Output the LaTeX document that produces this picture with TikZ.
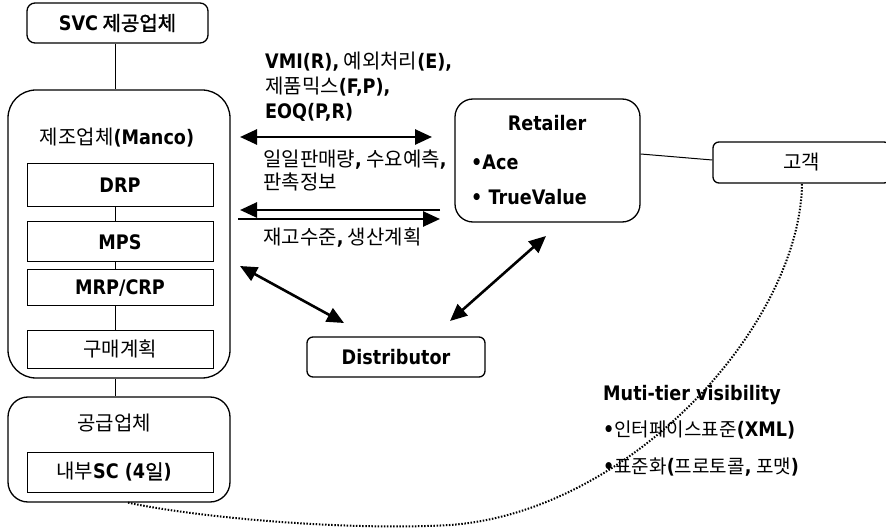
\documentclass[tikz,border=0pt]{standalone}
\usepackage{fontspec}
\setmainfont{Noto Sans CJK KR}
\newfontfamily\latfont[FakeStretch=0.88,Scale=1.0]{DejaVu Sans}
\newfontfamily\krbfont[FakeBold=1.5]{Noto Sans CJK KR}
\newcommand\B[1]{{\latfont\bfseries #1}}
\newcommand\KB[1]{{\krbfont #1}}
\newcommand\KS[1]{{\fontsize{19}{20}\selectfont #1}}
\newcommand\bul{{\latfont\bfseries •}}
\usetikzlibrary{arrows.meta}
\begin{document}
\begin{tikzpicture}[x=1pt,y=-1pt,
  every node/.style={font=\fontsize{20}{22}\selectfont, inner sep=0pt},
  rbox/.style={draw, line width=1.3pt, rounded corners=#1},
  rbox/.default=8pt,
  sbox/.style={draw, line width=1pt, minimum width=186pt},
  conn/.style={line width=1pt},
  tip/.tip={Triangle[length=17pt,width=15pt]},
  dbl/.style={line width=2.6pt, tip-tip},
  sgl/.style={line width=2.6pt, -tip},
  lbl/.style={anchor=west},
  dotline/.style={line width=2pt, dash pattern=on 1.5pt off 1.6pt}
]
\useasboundingbox (0,0) rectangle (886,529);
% boxes
\node[rbox, minimum width=181pt, minimum height=40pt] (svc) at (117.5,23) {\B{SVC} \KB{제공업체}};
\node[rbox=28pt, minimum width=222pt, minimum height=288pt] (manco) at (119,234) {};
\node (mancol) at (117,138) {제조업체\B{(Manco)}};
\node[sbox, minimum height=43pt] (drp) at (120,185) {\B{DRP}};
\node[sbox, minimum height=40pt] (mps) at (120,242) {\B{MPS}};
\node[sbox, minimum height=36pt] (mrp) at (120,288) {\B{MRP/CRP}};
\node[sbox, minimum height=38pt] (buy) at (120,349) {구매계획};
\node[rbox=20pt, minimum width=222pt, minimum height=105pt] (supp) at (119,449.5) {};
\node (suppl) at (114,423) {공급업체};
\node[sbox, minimum height=40pt] (sc) at (120,472) {\hspace*{-12pt}내부\B{SC (4}\KB{일}\B{)}};
\node[rbox=6pt, minimum width=178pt, minimum height=40pt] (dist) at (396,357) {\B{Distributor}};
\node[rbox=18pt, minimum width=185pt, minimum height=123pt] (ret) at (547.5,160.5) {};
\node (retl) at (547,123) {\B{Retailer}};
\node[lbl] (ace) at (471,162) {\B{•Ace}};
\node[lbl] (tv) at (471,197) {\B{• TrueValue}};
\node[rbox=6pt, minimum width=177pt, minimum height=41pt] (cust) at (801.5,162.5) {고객};
% vertical connectors
\draw[conn] (svc.south -| 115,0) -- (manco.north -| 115,0);
\draw[conn] (drp.south -| 115,0) -- (mps.north -| 115,0);
\draw[conn] (mps.south -| 115,0) -- (mrp.north -| 115,0);
\draw[conn] (mrp.south -| 115,0) -- (buy.north -| 115,0);
\draw[conn] (manco.south -| 115,0) -- (supp.north -| 115,0);
\draw[conn] (ret.east |- 0,154) -- (cust.west |- 0,160);
% arrows
\coordinate (a1l) at (240,137); \coordinate (a1r) at (432,137);
\coordinate (a2l) at (240,210); \coordinate (a2r) at (440,210);
\coordinate (a3l) at (238,219); \coordinate (a3r) at (440,219);
\coordinate (a4m) at (240,266); \coordinate (a4d) at (344,323);
\coordinate (a5r) at (546,236); \coordinate (a5d) at (450,321);
\draw[dbl] (a1l) -- (a1r);
\draw[sgl] (a2r) -- (a2l);
\draw[sgl] (a3l) -- (a3r);
\draw[dbl] (a4m) -- (a4d);
\draw[dbl] (a5r) -- (a5d);
% labels
\node[lbl] (t1) at (265,62) {\B{VMI(R),} 예외처리\B{(E),}};
\node[lbl] (t2) at (265,87) {제품믹스\B{(F,P),}};
\node[lbl] (t3) at (265,112) {\B{EOQ(P,R)}};
\node[lbl] (t4) at (263,160) {일일판매량\B{,} 수요예측\B{,}};
\node[lbl] (t5) at (263,182) {판촉정보};
\node[lbl] (t6) at (263,238) {재고수준\B{,} 생산계획};
\node[lbl] (m1) at (603,395) {\B{Muti-tier visibility}};
\node[lbl] (m2) at (603,430) {\bul\KS{인터페이스표준}\B{(XML)}};
\node[lbl] (m3) at (603,467) {\bul\KS{표준화}\B{(}\KS{프로토콜}\B{,} \KS{포맷}\B{)}};
% dotted curve
\draw[dotline] (supp.south -| 128,0) .. controls (200,518) and (350,530.9) .. (450,525)
   .. controls (630,512) and (800,325) .. (cust.south -| 802,0);
\end{tikzpicture}
\end{document}
